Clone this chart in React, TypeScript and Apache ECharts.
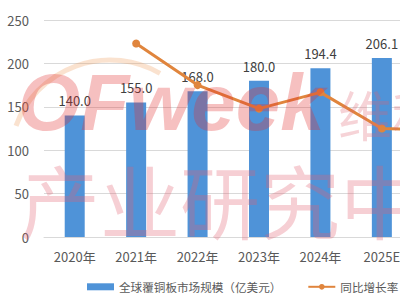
import React, { useEffect, useRef } from "react";
import * as echarts from "echarts";

const categories = ["2020年", "2021年", "2022年", "2023年", "2024年", "2025E", "2026E"];
const marketSize: (number | null)[] = [140.0, 155.0, 168.0, 180.0, 194.4, 206.1, null];
const growthRate: (number | null)[] = [null, 10.7, 8.4, 7.1, 8.0, 6.0, 5.9];
const barName = "全球覆铜板市场规模（亿美元）";
const lineName = "同比增长率";

const FONT = "'Noto Sans CJK SC', 'Noto Sans', sans-serif";

export default function App() {
  const ref = useRef<HTMLDivElement>(null);
  useEffect(() => {
    if (!ref.current) return;
    const chart = echarts.init(ref.current, null, { renderer: "svg" });
    chart.setOption({
      animation: false,
      backgroundColor: "#ffffff",
      textStyle: { fontFamily: FONT },
      grid: { left: 44, right: 0, top: 20, bottom: 63, containLabel: false },
      legend: {
        left: 82,
        top: 276,
        itemWidth: 27,
        itemHeight: 7,
        itemGap: 26,
        textStyle: { color: "#595959", fontSize: 11.6, fontFamily: FONT },
        data: [
          { name: barName, icon: "rect" },
          { name: lineName },
        ],
      },
      xAxis: {
        type: "category",
        data: categories,
        axisLine: { show: true, lineStyle: { color: "#d9d9d9" } },
        axisTick: { show: false },
        axisLabel: { color: "#595959", fontSize: 13, margin: 13, interval: 0, fontFamily: FONT },
      },
      yAxis: [
        {
          type: "value",
          min: 0,
          max: 250,
          interval: 50,
          axisLine: { show: false },
          axisTick: { show: false },
          axisLabel: { color: "#595959", fontSize: 13, margin: 15, fontFamily: FONT },
          splitLine: { lineStyle: { color: "#d9d9d9" } },
        },
        {
          type: "value",
          min: 0,
          max: 12,
          show: false,
          splitLine: { show: false },
        },
      ],
      series: [
        {
          name: barName,
          type: "bar",
          data: marketSize,
          barWidth: 20,
          itemStyle: { color: "#4f93d8" },
          label: {
            show: true,
            position: "top",
            distance: 8,
            color: "#404040",
            fontSize: 13,
            fontFamily: FONT,
            formatter: (p: any) => (p.value == null ? "" : Number(p.value).toFixed(1)),
          },
        },
        {
          name: lineName,
          type: "line",
          yAxisIndex: 1,
          data: growthRate,
          symbol: "circle",
          symbolSize: 8,
          lineStyle: { color: "#e0853d", width: 3 },
          itemStyle: { color: "#e0853d" },
        },
      ],
      graphic: [
        {
          type: "arc",
          silent: true,
          z: 100,
          shape: { cx: 110, cy: 160, r: 100, startAngle: (200 * Math.PI) / 180, endAngle: (300 * Math.PI) / 180 },
          style: { stroke: "#f0a060", lineWidth: 5, fill: "none", opacity: 0.3 },
        },
        {
          type: "text",
          silent: true,
          z: 100,
          x: 18,
          y: 142,
          style: {
            text: "OFweek",
            fontSize: 80,
            fontWeight: "bold",
            fontStyle: "italic",
            fontFamily: "'Liberation Sans', Arial, sans-serif",
            fill: "#e03030",
            opacity: 0.3,
            textVerticalAlign: "bottom",
          },
        },
        {
          type: "text",
          silent: true,
          z: 100,
          x: 338,
          y: 140,
          style: {
            text: "维科",
            fontSize: 54,
            fontFamily: FONT,
            fill: "#e06070",
            opacity: 0.28,
            textVerticalAlign: "bottom",
          },
        },
        {
          type: "text",
          silent: true,
          z: 100,
          x: 20,
          y: 158,
          style: {
            text: "产业研究中心",
            fontSize: 80,
            fontFamily: FONT,
            fill: "#e06070",
            opacity: 0.3,
            textVerticalAlign: "top",
          },
        },
      ],
    });
    return () => chart.dispose();
  }, []);
  return (
    <div style={{ width: 400, height: 300, position: "absolute", left: 0, top: 0, overflow: "hidden", background: "#fff" }}>
      <div ref={ref} style={{ width: 474, height: 300 }} />
    </div>
  );
}
